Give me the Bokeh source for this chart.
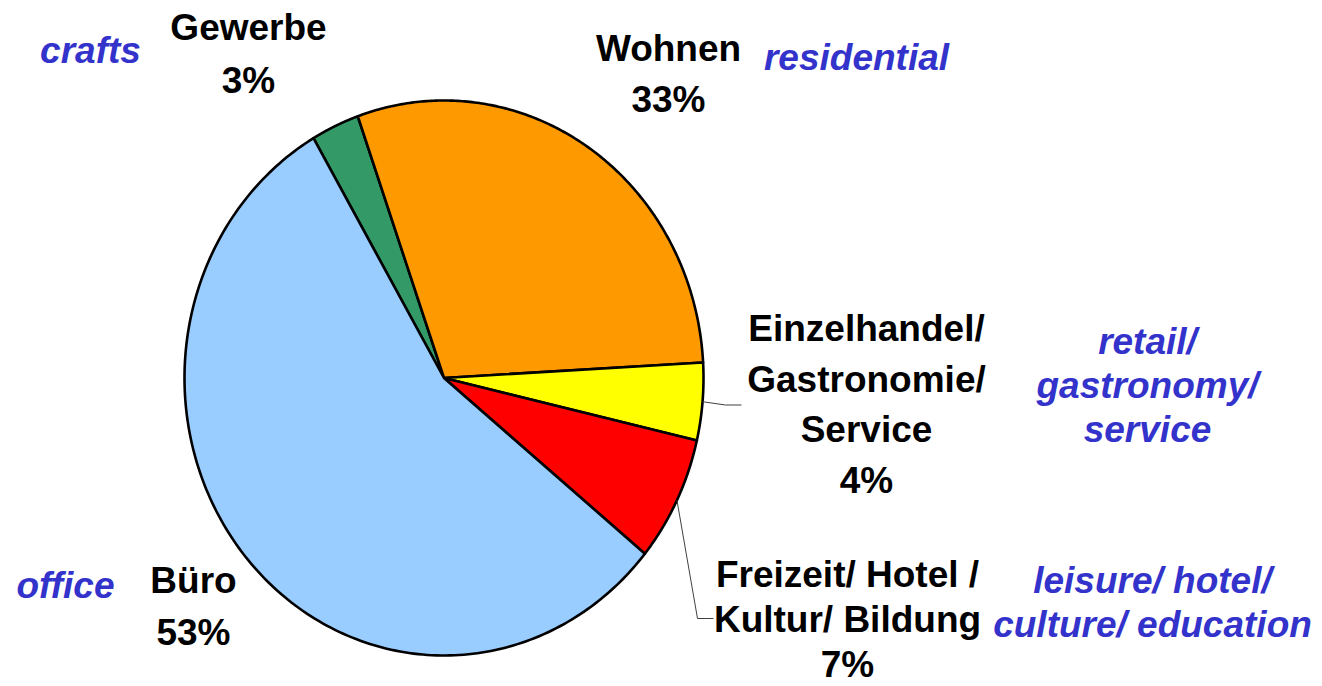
import numpy as np
from bokeh.plotting import figure
from bokeh.models import Range1d
from bokeh.core.properties import value
from bokeh.embed import file_html
from bokeh.resources import INLINE

# ---- data ----
categories = ["Gewerbe", "Wohnen", "Einzelhandel/Gastronomie/Service",
              "Freizeit/Hotel/Kultur/Bildung", "Büro"]
shares = [3.0, 29.5, 4.5, 7.3, 55.7]          # drawn share of the pie, %
pct_labels = ["3%", "33%", "4%", "7%", "53%"]  # printed labels
names_de = ["Gewerbe", "Wohnen", "Einzelhandel/\nGastronomie/\nService",
            "Freizeit/ Hotel /\nKultur/ Bildung", "Büro"]
names_en = ["crafts", "residential", "retail/\ngastronomy/\nservice",
            "leisure/ hotel/\nculture/ education", "office"]
colors = ["#339966", "#FF9900", "#FFFF00", "#FF0000", "#99CCFF"]

# ---- layout ----
W, H = 1322, 686
CX, CY, RX, RY = 443.5, 377.5, 259.5, 277.5
START = -30.2
FONT = "Liberation Sans"
FS = "37px"
BLUE = "#3333CC"
de_pos = [(248, 53.5), (668, 73.5), (866, 404), (847, 619), (193, 606)]
de_lh = [1.28, 1.24, 1.235, 1.09, 1.26]
en_pos = [(90, 50), (856, 57), (1147, 385), (1152, 602), (65, 585)]
en_lh = [1.1, 1.1, 1.07, 1.09, 1.1]
leader_idx = [2, 3]
leader_rest = {2: [(725, 404.5), (741, 404.5)], 3: [(697, 618), (713, 618)]}

p = figure(width=W, height=H, output_backend="svg", toolbar_location=None,
           x_range=Range1d(0, W), y_range=Range1d(H, 0),
           x_axis_location=None, y_axis_location=None, min_border=0,
           outline_line_color=None, background_fill_color="white",
           border_fill_color="white")
p.xgrid.visible = False
p.ygrid.visible = False

total = sum(shares)
edges = START + np.cumsum([0] + shares) / total * 360.0
xs, ys = [], []
for a0, a1 in zip(edges[:-1], edges[1:]):
    t = np.radians(np.linspace(a0, a1, 200))
    xs.append([CX] + list(CX + RX * np.sin(t)))
    ys.append([CY] + list(CY - RY * np.cos(t)))
p.patches(xs, ys, fill_color=colors, line_color="black", line_width=2.6,
          line_join="round")

# leader lines
lx, ly = [], []
for i in leader_idx:
    mid = np.radians((edges[i] + edges[i + 1]) / 2)
    x0, y0 = CX + RX * np.sin(mid), CY - RY * np.cos(mid)
    pts = [(x0, y0)] + leader_rest[i]
    lx.append([q[0] for q in pts])
    ly.append([q[1] for q in pts])
p.multi_line(lx, ly, line_color="#404040", line_width=1)

for i in range(len(categories)):
    x, y = de_pos[i]
    p.text(x=[x], y=[y], text=[names_de[i] + "\n" + pct_labels[i]],
           text_font=value(FONT), text_font_size=FS, text_font_style="bold",
           text_color="black", text_align="center", text_baseline="middle",
           text_line_height=de_lh[i])
    x, y = en_pos[i]
    p.text(x=[x], y=[y], text=[names_en[i]],
           text_font=value(FONT), text_font_size=FS,
           text_font_style="bold italic", text_color=BLUE,
           text_align="center", text_baseline="middle",
           text_line_height=en_lh[i])

open("out.html", "w").write(file_html(p, INLINE))
